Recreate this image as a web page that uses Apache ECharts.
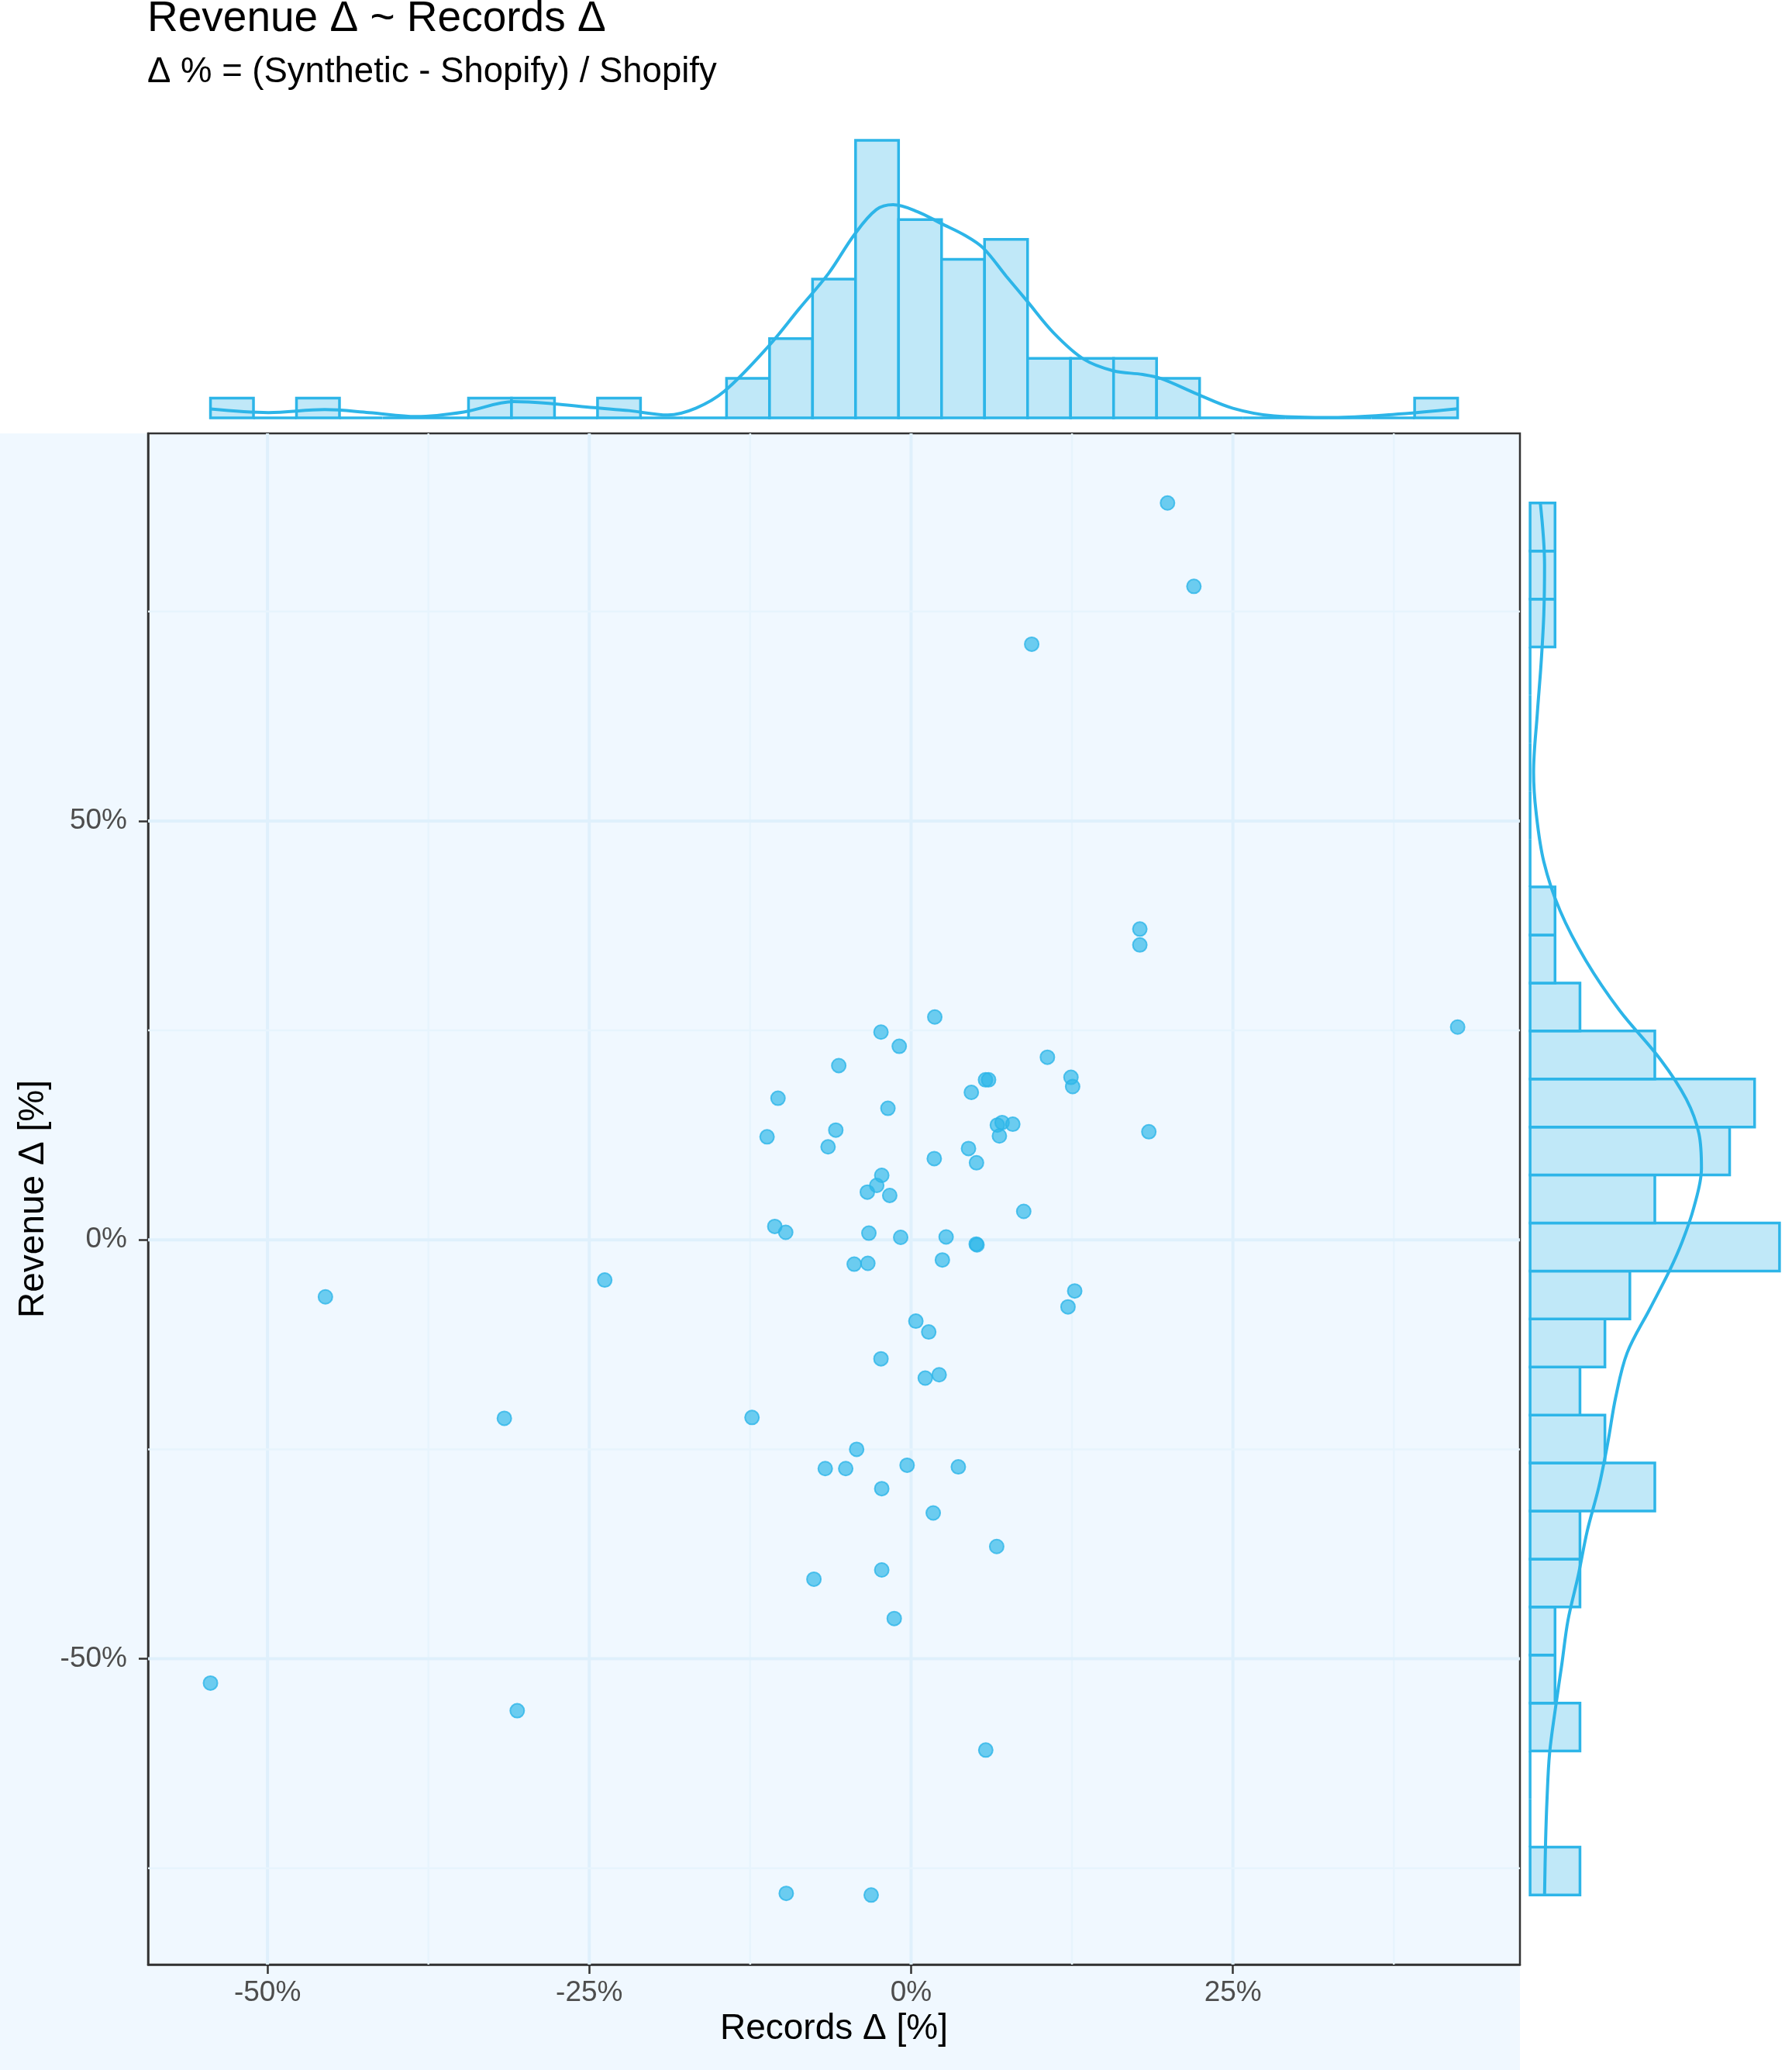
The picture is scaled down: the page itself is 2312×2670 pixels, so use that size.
<!DOCTYPE html>
<html>
<head>
<meta charset="utf-8">
<title>Revenue Δ ~ Records Δ</title>
<script src="https://cdn.jsdelivr.net/npm/echarts@6/dist/echarts.min.js"></script>
<style>
  html, body { margin: 0; padding: 0; background: #ffffff; }
  #chart { width: 2312px; height: 2670px; }
</style>
</head>
<body>
<div id="chart"></div>
<script>
// scatter: Records Δ (x) and Revenue Δ (y), in %
let recordsDelta = [
  1.84, -2.34, -0.92, -5.62, 10.59, 5.78, 6.02, 12.42, 12.55, 4.68,
  -10.34, -1.80, -11.19, -5.85, -6.45, 6.70, 7.07, 7.90, 6.86, 18.47,
  4.46, 1.80, 5.08, -2.28, -2.67, -3.40, -1.66, 8.75, -10.59, -9.74,
  -3.28, -0.81, 2.72, 5.06, 5.12, -4.42, -3.36, 2.43, 12.71, 12.19,
  0.37, 1.37, -2.34, 2.18, 1.10, -12.36, -4.23, -6.67, -5.08, -0.31,
  3.67, -2.28, 1.72, 6.65, -2.28, -7.55, -1.31, 19.92, 21.97, 9.37,
  17.77, 17.77, 42.46, -54.43, -45.5, -23.8, -31.6, -30.6, 5.8, -9.7,
  -3.1
];
let revenueDelta = [
  26.6, 24.8, 23.1, 20.8, 21.8, 19.1, 19.1, 19.4, 18.3, 17.6,
  16.9, 15.7, 12.3, 13.1, 11.1, 13.7, 14.0, 13.8, 12.4, 12.9,
  10.9, 9.7, 9.2, 7.7, 6.5, 5.7, 5.3, 3.4, 1.6, 0.9,
  0.8, 0.3, 0.35, -0.5, -0.6, -2.9, -2.8, -2.4, -6.1, -8.0,
  -9.7, -11.0, -14.2, -16.1, -16.5, -21.2, -25.0, -27.3, -27.3, -26.9,
  -27.1, -29.7, -32.6, -36.6, -39.4, -40.5, -45.2, 87.95, 78.0, 71.1,
  37.1, 35.2, 25.4, -52.9, -6.8, -4.8, -21.3, -56.2, -60.9, -78.0,
  -78.2
];

// marginal histograms (counts per bin)
let xBinStart = -54.43;
let xBinWidth = 3.341;
let xHistCounts = [1, 0, 1, 0, 0, 0, 1, 1, 0, 1, 0, 0, 2, 4, 7, 14, 10, 8, 9, 3, 3, 3, 2, 0, 0, 0, 0, 0, 1];
let yBinStart = -78.2;
let yBinWidth = 5.7293;
let yHistCounts = [2, 0, 0, 2, 1, 1, 2, 2, 5, 3, 2, 3, 4, 10, 5, 8, 9, 5, 2, 1, 1, 0, 0, 0, 0, 0, 1, 1, 1];

// density curves on the margins (count scale)
let xDensityAt = [-54.43, -49.93, -45.56, -42.11, -38.43, -34.76, -30.86, -27.87, -24.65, -21.9, -18.9, -16.7, -14.5, -11.1, -8.7, -6.4, -4.4, -2.7, -1.4, 0.5, 2.35, 4.2, 5.6, 7.4, 9.0, 11.1, 13.4, 15.7, 18.0, 19.4, 22.2, 25.0, 28.2, 32.8, 37.4, 42.46];
let xDensity = [0.45, 0.27, 0.42, 0.27, 0.07, 0.30, 0.82, 0.72, 0.52, 0.37, 0.15, 0.50, 1.35, 3.6, 5.5, 7.3, 9.25, 10.5, 10.75, 10.4, 9.8, 9.2, 8.57, 7.14, 5.9, 4.27, 2.97, 2.38, 2.19, 1.99, 1.21, 0.49, 0.10, 0.02, 0.17, 0.46];
let yDensityAt = [87.95, 80.56, 74.67, 68.76, 62.85, 55.77, 51.05, 45.14, 39.23, 33.32, 27.42, 21.52, 16.80, 12.66, 8.53, 3.81, -0.21, -3.67, -8.19, -13.5, -18.81, -24.13, -29.44, -34.76, -40.07, -45.39, -50.70, -56.03, -61.34, -66.66, -71.97, -78.2];
let yDensity = [0.41, 0.58, 0.55, 0.44, 0.29, 0.14, 0.24, 0.55, 1.21, 2.24, 3.58, 5.23, 6.26, 6.77, 6.87, 6.56, 6.1, 5.59, 4.81, 3.89, 3.43, 3.12, 2.76, 2.29, 1.93, 1.52, 1.27, 1.01, 0.78, 0.68, 0.62, 0.58];

// axes
let xTicks = [-50, -25, 0, 25];
let yTicks = [-50, 0, 50];
let xGridMajor = [-50, -25, 0, 25];
let xGridMinor = [-37.5, -12.5, 12.5, 37.5];
let yGridMajor = [-50, 0, 50];
let yGridMinor = [-75, -25, 25, 75];

let lineColor = '#2DB5E8';
let histFill = '#C0E8F8';
let fontFamily = '"Liberation Sans", Arial, Helvetica, sans-serif';

let myChart = echarts.init(document.getElementById('chart'));

let scatterData = recordsDelta.map(function (x, i) {
  return [x, revenueDelta[i]];
});
let xHistData = xHistCounts.map(function (c, i) {
  let left = xBinStart + i * xBinWidth;
  return [left, c, left + xBinWidth];
});
let yHistData = yHistCounts.map(function (c, i) {
  let bottom = yBinStart + i * yBinWidth;
  return [c, bottom, bottom + yBinWidth];
});
let gridV = xGridMajor.map(function (v) { return [v, 0, 1]; })
  .concat(xGridMinor.map(function (v) { return [v, 0, 0]; }));
let gridH = yGridMajor.map(function (v) { return [0, v, 1]; })
  .concat(yGridMinor.map(function (v) { return [0, v, 0]; }));

let option = {
  animation: false,
  backgroundColor: '#ffffff',
  textStyle: { fontFamily: fontFamily },
  //panel-side background (light blue band under the main plot)
  graphic: {
    elements: [
      {
        type: 'rect',
        z: -100,
        silent: true,
        shape: { x: 0, y: 559, width: 1961, height: 2111 },
        style: { fill: '#F0F8FF' }
      }
    ]
  },
  title: {
    text: 'Revenue Δ ~ Records Δ',
    subtext: 'Δ % = (Synthetic - Shopify) / Shopify',
    left: 190,
    top: -3,
    padding: 0,
    itemGap: 18,
    textStyle: { fontSize: 55, fontWeight: 'normal', color: '#000000', fontFamily: fontFamily },
    subtextStyle: { fontSize: 45.5, color: '#000000', fontFamily: fontFamily }
  },
  grid: [
    { left: 191, top: 559, width: 1770, height: 1975, show: true, borderColor: '#333333', borderWidth: 2.5, backgroundColor: 'transparent' },
    { left: 191, top: 163, width: 1770, height: 394 },
    { left: 1958, top: 559, width: 354, height: 1975 }
  ],
  xAxis: [
    {
      type: 'value',
      gridIndex: 0,
      min: -59.28,
      max: 47.3,
      name: 'Records Δ [%]',
      nameLocation: 'middle',
      nameGap: 58,
      nameTextStyle: { fontSize: 46, color: '#000000', fontFamily: fontFamily },
      axisLine: { show: true, onZero: false, lineStyle: { color: '#333333', width: 2.5 } },
      axisTick: { show: true, customValues: xTicks, length: 12, lineStyle: { color: '#333333', width: 2.5 } },
      axisLabel: {
        customValues: xTicks,
        margin: 18,
        fontSize: 37,
        color: '#4D4D4D',
        formatter: function (v) { return v + '%'; }
      },
      splitLine: { show: false }
    },
    { type: 'value', gridIndex: 1, min: -59.28, max: 47.3, show: false },
    { type: 'value', gridIndex: 2, min: -0.5, max: 10.5, show: false }
  ],
  yAxis: [
    {
      type: 'value',
      gridIndex: 0,
      min: -86.5,
      max: 96.26,
      name: 'Revenue Δ [%]',
      nameLocation: 'middle',
      nameGap: 122,
      nameTextStyle: { fontSize: 46, color: '#000000', fontFamily: fontFamily },
      axisLine: { show: true, onZero: false, lineStyle: { color: '#333333', width: 2.5 } },
      axisTick: { show: true, customValues: yTicks, length: 12, lineStyle: { color: '#333333', width: 2.5 } },
      axisLabel: {
        customValues: yTicks,
        margin: 27,
        fontSize: 37,
        color: '#4D4D4D',
        formatter: function (v) { return v + '%'; }
      },
      splitLine: { show: false }
    },
    { type: 'value', gridIndex: 1, min: -0.7, max: 14.7, show: false },
    { type: 'value', gridIndex: 2, min: -86.5, max: 96.26, show: false }
  ],
  series: [
    //vertical grid lines
    {
      type: 'custom',
      xAxisIndex: 0,
      yAxisIndex: 0,
      z: 1,
      silent: true,
      data: gridV,
      renderItem: function (params, api) {
        let x = api.coord([api.value(0), 0])[0];
        let cs = params.coordSys;
        let major = api.value(2) === 1;
        return {
          type: 'line',
          shape: { x1: x, y1: cs.y, x2: x, y2: cs.y + cs.height },
          style: { stroke: major ? '#DFF0FC' : '#E7F4FD', lineWidth: major ? 4 : 2.5 }
        };
      }
    },
    //horizontal grid lines
    {
      type: 'custom',
      xAxisIndex: 0,
      yAxisIndex: 0,
      z: 1,
      silent: true,
      data: gridH,
      renderItem: function (params, api) {
        let y = api.coord([0, api.value(1)])[1];
        let cs = params.coordSys;
        let major = api.value(2) === 1;
        return {
          type: 'line',
          shape: { x1: cs.x, y1: y, x2: cs.x + cs.width, y2: y },
          style: { stroke: major ? '#DFF0FC' : '#E7F4FD', lineWidth: major ? 4 : 2.5 }
        };
      }
    },
    //scatter points
    {
      type: 'scatter',
      xAxisIndex: 0,
      yAxisIndex: 0,
      z: 3,
      symbolSize: 18,
      data: scatterData,
      itemStyle: { color: 'rgba(45,183,233,0.85)', borderColor: lineColor, borderWidth: 2 }
    },
    //top histogram
    {
      type: 'custom',
      xAxisIndex: 1,
      yAxisIndex: 1,
      z: 2,
      data: xHistData,
      encode: { x: [0, 2], y: 1 },
      renderItem: function (params, api) {
        let p0 = api.coord([api.value(0), 0]);
        let p1 = api.coord([api.value(2), api.value(1)]);
        return {
          type: 'rect',
          shape: { x: p0[0], y: p1[1], width: p1[0] - p0[0], height: p0[1] - p1[1] },
          style: { fill: histFill, stroke: lineColor, lineWidth: 3.5 }
        };
      }
    },
    {
      type: 'line',
      xAxisIndex: 1,
      yAxisIndex: 1,
      z: 3,
      smooth: 0.35,
      symbol: 'none',
      data: xDensityAt.map(function (x, i) { return [x, xDensity[i]]; }),
      lineStyle: { color: lineColor, width: 4 }
    },
    //right histogram
    {
      type: 'custom',
      xAxisIndex: 2,
      yAxisIndex: 2,
      z: 2,
      data: yHistData,
      encode: { x: 0, y: [1, 2] },
      renderItem: function (params, api) {
        let p0 = api.coord([0, api.value(1)]);
        let p1 = api.coord([api.value(0), api.value(2)]);
        return {
          type: 'rect',
          shape: { x: p0[0], y: p1[1], width: p1[0] - p0[0], height: p0[1] - p1[1] },
          style: { fill: histFill, stroke: lineColor, lineWidth: 3.5 }
        };
      }
    },
    {
      type: 'line',
      xAxisIndex: 2,
      yAxisIndex: 2,
      z: 3,
      smooth: 0.35,
      symbol: 'none',
      data: yDensityAt.map(function (y, i) { return [yDensity[i], y]; }),
      lineStyle: { color: lineColor, width: 4 }
    }
  ]
};

myChart.setOption(option);
</script>
</body>
</html>
